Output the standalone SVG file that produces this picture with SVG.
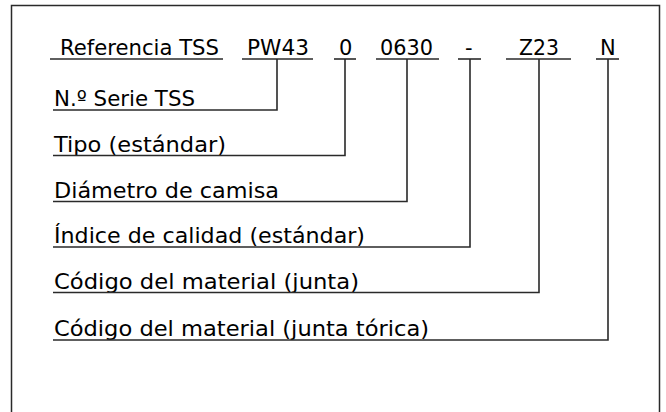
<svg xmlns="http://www.w3.org/2000/svg" width="666" height="412" viewBox="0 0 666 412">
<style>
text{font-family:"DejaVu Sans","Open Sans",sans-serif;font-size:21px;fill:#000}
.ln{fill:none;stroke:#2a2a2a;stroke-width:1.6}
.fr{fill:none;stroke:#2a2a2a;stroke-width:1.5}
</style>
<rect width="666" height="412" fill="#fff"/>
<path class="fr" d="M11.5,414 V5.5 H659.5 V414"/>
<g id="header">
<text x="60" y="55" textLength="159" lengthAdjust="spacingAndGlyphs">Referencia TSS</text>
<path class="ln" d="M50,59 H223"/>
</g>
<g id="code-pw43"><text x="247" y="55" textLength="62" lengthAdjust="spacingAndGlyphs">PW43</text><path class="ln" d="M242,59 H313"/></g>
<g id="code-0"><text x="339" y="55">0</text><path class="ln" d="M334,59 H356"/></g>
<g id="code-0630"><text x="380" y="55" textLength="53" lengthAdjust="spacingAndGlyphs">0630</text><path class="ln" d="M376,59 H439"/></g>
<g id="code-dash"><text x="465" y="55">-</text><path class="ln" d="M458,59 H481"/></g>
<g id="code-z23"><text x="519" y="55" textLength="40" lengthAdjust="spacingAndGlyphs">Z23</text><path class="ln" d="M506,59 H571"/></g>
<g id="code-n"><text x="600" y="55">N</text><path class="ln" d="M596,59 H619"/></g>
<g id="label-serie"><text x="54" y="106" textLength="141" lengthAdjust="spacingAndGlyphs">N.º Serie TSS</text></g>
<g id="label-tipo"><text x="54" y="151.5" textLength="172" lengthAdjust="spacingAndGlyphs">Tipo (estándar)</text></g>
<g id="label-diametro"><text x="54" y="197.5" textLength="225" lengthAdjust="spacingAndGlyphs">Diámetro de camisa</text></g>
<g id="label-indice"><text x="54" y="243" textLength="311" lengthAdjust="spacingAndGlyphs">Índice de calidad (estándar)</text></g>
<g id="label-junta"><text x="54" y="288.5" textLength="305" lengthAdjust="spacingAndGlyphs">Código del material (junta)</text></g>
<g id="label-torica"><text x="54" y="336" textLength="375" lengthAdjust="spacingAndGlyphs">Código del material (junta tórica)</text></g>
<g id="connectors">
<path class="ln" d="M277,59 V110 H53"/>
<path class="ln" d="M345,59 V155.5 H53"/>
<path class="ln" d="M407,59 V201.5 H53"/>
<path class="ln" d="M470,59 V247 H53"/>
<path class="ln" d="M539,59 V292.5 H53"/>
<path class="ln" d="M608,59 V340 H53"/>
</g>
</svg>
